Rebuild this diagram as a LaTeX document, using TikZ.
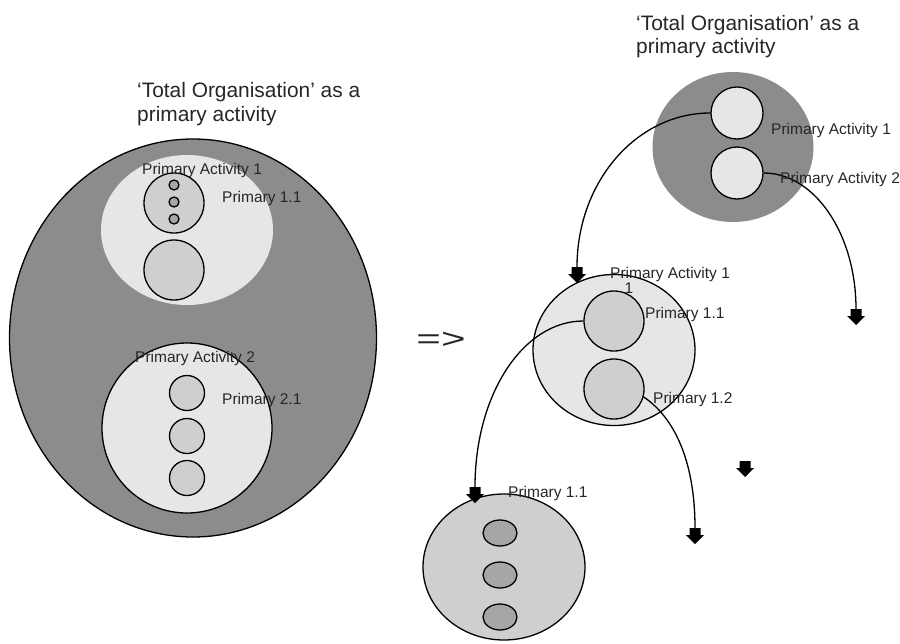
\documentclass[tikz,border=0pt]{standalone}
\usepackage{fontspec}
\setmainfont{Liberation Sans}
\usepackage{graphicx}
\usetikzlibrary{shapes.geometric}
\definecolor{orggray}{HTML}{8C8C8C}
\definecolor{actlight}{HTML}{E6E6E6}
\definecolor{submid}{HTML}{CFCFCF}
\definecolor{dotgray}{HTML}{A6A6A6}
\begin{document}
\begin{tikzpicture}[x=1pt,y=-1pt,
    blob/.style={ellipse,inner sep=0pt},
    ring/.style={draw,line width=1.3pt},
    lbl/.style={anchor=base west,inner sep=0pt,text=black!85,font=\fontsize{15.5}{18}\selectfont},
    ttl/.style={anchor=base west,inner sep=0pt,text=black!85,font=\fontsize{20.9}{24}\selectfont},
    link/.style={line width=1.3pt},
    blockarrow/.pic={\fill (-5.5,0) -- (5.5,0) -- (5.5,7) -- (9,7) -- (0,16) -- (-9,7) -- (-5.5,7) -- cycle;}]
        \useasboundingbox (0,0) rectangle (900,643);
        % left: the whole organisation
        \node[blob,ring,fill=orggray,minimum width=367,minimum height=398] (org) at (193,338) {};
        \node[blob,fill=actlight,minimum width=172,minimum height=150] (pa1) at (187,230) {};
        \node[blob,ring,fill=submid,minimum size=60] (p11) at (174,203) {};
        \node[blob,ring,fill=dotgray,minimum size=10] (d1) at (174,185) {};
        \node[blob,ring,fill=dotgray,minimum size=10] (d2) at (174,202) {};
        \node[blob,ring,fill=dotgray,minimum size=10] (d3) at (174,219) {};
        \node[blob,ring,fill=submid,minimum size=60] (p12) at (174,270) {};
        \node[blob,ring,fill=actlight,minimum width=170,minimum height=170] (pa2) at (187,428) {};
        \node[blob,ring,fill=submid,minimum size=35] (p21) at (187,393) {};
        \node[blob,ring,fill=submid,minimum size=35] (p22) at (187,436) {};
        \node[blob,ring,fill=submid,minimum size=35] (p23) at (187,478) {};
        \node[inner sep=0pt,text=black!85,font=\fontsize{28}{30}\selectfont] (impl) at (441,340) {\scalebox{1.5}[1]{=>}};
        % right: one level at a time
        \node[blob,fill=orggray,minimum width=161,minimum height=150] (torg) at (733,147) {};
        \node[blob,ring,fill=actlight,minimum size=52] (ta1) at (737,113) {};
        \node[blob,ring,fill=actlight,minimum size=52] (ta2) at (737,173) {};
        \node[blob,ring,fill=actlight,minimum width=162,minimum height=151] (mid) at (614,350) {};
        \node[blob,ring,fill=submid,minimum size=60] (m11) at (614,321) {};
        \node[blob,ring,fill=submid,minimum size=60] (m12) at (614,389) {};
        \node[blob,ring,fill=submid,minimum width=162,minimum height=146] (bot) at (504,567) {};
        \node[blob,ring,fill=dotgray,minimum width=34,minimum height=26] (e1) at (500,533) {};
        \node[blob,ring,fill=dotgray,minimum width=34,minimum height=26] (e2) at (500,575) {};
        \node[blob,ring,fill=dotgray,minimum width=34,minimum height=26] (e3) at (500,617) {};
        \coordinate (a1) at (577,267);
        \coordinate (a2) at (856,309);
        \coordinate (a3) at (475,487);
        \coordinate (a4) at (695,528);
        \coordinate (a5) at (745,461);
        \draw[link] (ta1.west) .. controls +(-74,0) and +(0,-85) .. (a1);
        \draw[link] (ta2.east) .. controls +(51,0) and +(0,-75) .. (a2);
        \draw[link] (m11.west) .. controls +(-60,0) and +(0,-93) .. (a3);
        \draw[link] (m12.-15) .. controls +(30,20) and +(0,-68) .. (a4);
        \pic at (a1) {blockarrow};
        \pic at (a2) {blockarrow};
        \pic at (a3) {blockarrow};
        \pic at (a4) {blockarrow};
        \pic at (a5) {blockarrow};
        % labels
        \node[ttl] (lttl1) at (137,97) {‘Total Organisation’ as a};
        \node[ttl] (lttl2) at (137,121) {primary activity};
        \node[ttl] (rttl1) at (636,30) {‘Total Organisation’ as a};
        \node[ttl] (rttl2) at (636,53) {primary activity};
        \node[lbl] (lpa1) at (142,174) {Primary Activity 1};
        \node[lbl] (lp11) at (222,202) {Primary 1.1};
        \node[lbl] (lpa2) at (135,362) {Primary Activity 2};
        \node[lbl] (lp21) at (222,404) {Primary 2.1};
        \node[lbl] (rpa1) at (771,134) {Primary Activity 1};
        \node[lbl] (rpa2) at (780,183) {Primary Activity 2};
        \node[lbl] (mpa1) at (610,278) {Primary Activity 1};
        \node[lbl,anchor=base] (mone) at (629,293) {1};
        \node[lbl] (mp11) at (645,318) {Primary 1.1};
        \node[lbl] (mp12) at (653,403) {Primary 1.2};
        \node[lbl] (bp11) at (508,497) {Primary 1.1};
    \end{tikzpicture}
\end{document}
